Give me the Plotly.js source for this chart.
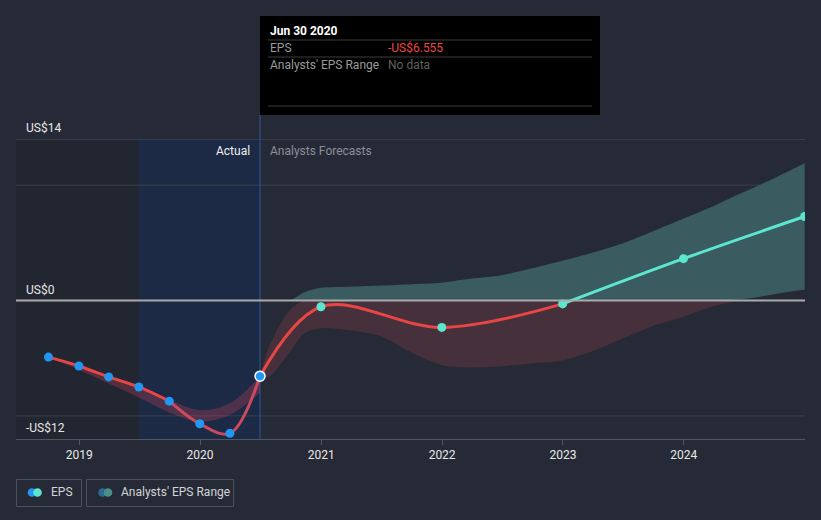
<!DOCTYPE html>
<html><head><meta charset="utf-8">
<script src="https://cdn.plot.ly/plotly-3.0.1.min.js"></script>
<style>html,body{margin:0;padding:0;background:#262a36;}#chart{width:821px;height:520px;}</style>
</head><body><div id="chart"></div><script>
// ---- data ----
const actualDates = ['2018-09-30','2018-12-31','2019-03-31','2019-06-30','2019-09-30','2019-12-31','2020-03-31','2020-06-30'];
const actualEps   = [-4.90, -5.67, -6.62, -7.49, -8.72, -10.68, -11.51, -6.555];
const forecastDates = ['2020-12-31','2021-12-31','2022-12-31','2023-12-31','2024-12-31'];
const forecastEps   = [-0.54, -2.33, -0.29, 3.63, 7.28];
const pastRangeDates = ['2018-09-30','2018-12-31','2019-03-31','2019-06-30','2019-09-30','2019-12-31','2020-03-31','2020-06-30'];
const pastRangeHigh  = [-4.9, -5.7, -6.6, -7.5, -8.6, -9.5, -8.9, -6.56];
const pastRangeLow   = [-4.9, -6.0, -7.2, -8.4, -9.7, -10.5, -9.9, -8.0];
const rangeDates = ['2020-06-30','2020-07-27','2020-09-27','2020-11-10','2020-12-31','2021-03-31','2021-06-30','2021-09-30','2021-12-31','2022-03-31','2022-06-30','2022-09-30','2022-12-31','2023-03-31','2023-06-30','2023-09-30','2023-12-31','2024-03-31','2024-06-30','2024-09-30','2024-12-31'];
const rangeHigh  = [-6.56, -4.0, -0.86, 0.7, 1.1, 1.2, 1.3, 1.42, 1.55, 1.9, 2.2, 2.8, 3.45, 4.15, 4.95, 6.0, 7.1, 8.2, 9.4, 10.6, 11.9];
const rangeLow   = [-6.56, -6.6, -4.5, -2.85, -2.4, -2.6, -3.1, -4.5, -5.6, -5.8, -5.7, -5.45, -5.2, -4.4, -3.3, -2.2, -1.4, -0.5, 0.13, 0.55, 0.95];
const yTickVals = [-12, 0, 14];
const yTickText = ['-US$12', 'US$0', 'US$14'];
const yGridVals = [-10, 10];
const xTickVals = ['2019-01-01','2020-01-01','2021-01-01','2022-01-01','2023-01-01','2024-01-01'];
const xTickText = ['2019','2020','2021','2022','2023','2024'];
const latestDate = '2020-06-30';
const pastStart = '2019-06-30';
const tipTitle = 'Jun 30 2020';
const tipEps = '-US$6.555';

// ---- geometry helpers ----
const W=821, H=520, L=16, R=16, T=139, B=81;
const px = x => (x - L) / (W - L - R);
const py = y => (H - B - y) / (H - T - B);
const FONT = 'Roboto, "Open Sans", sans-serif';
const RED = '#e84545', TEAL = '#5ce6cf', BLUE = '#2196f3';

const lowNeg = rangeLow.map(v => Math.min(v, 0));
const highNeg = rangeHigh.map(v => Math.min(v, 0));
const lowPos = rangeLow.map(v => Math.max(v, 0));
const highPos = rangeHigh.map(v => Math.max(v, 0));

const nb = {hoverinfo:'skip', showlegend:false, mode:'lines'};
const sp = {shape:'spline', smoothing:0.8, width:0};
const traces = [
  {...nb, x: pastRangeDates, y: pastRangeLow, line:{width:0, shape:'spline'}},
  {...nb, x: pastRangeDates, y: pastRangeHigh, line:{width:0, shape:'spline'}, fill:'tonexty', fillcolor:'rgba(215,70,95,0.28)'},
  {...nb, x: rangeDates, y: lowNeg, line:sp},
  {...nb, x: rangeDates, y: highNeg, line:sp, fill:'tonexty', fillcolor:'#46303b'},
  {...nb, x: rangeDates, y: lowPos, line:sp},
  {...nb, x: rangeDates, y: highPos, line:sp, fill:'tonexty', fillcolor:'#3a5c61'},
  {...nb, x: actualDates.slice(0,5), y: actualEps.slice(0,5), line:{color:RED, width:3, shape:'spline'}},
  {...nb, x: actualDates.slice(4), y: actualEps.slice(4), line:{color:'#cc4a5e', width:3, shape:'spline'}},
  {...nb, x: [actualDates[7]].concat(forecastDates.slice(0,3)), y: [actualEps[7]].concat(forecastEps.slice(0,3)), line:{color:RED, width:3, shape:'spline', smoothing:1}},
  {...nb, x: forecastDates.slice(2), y: forecastEps.slice(2), line:{color:TEAL, width:3, shape:'spline'}},
  {...nb, mode:'markers', x: actualDates.slice(0,7), y: actualEps.slice(0,7), marker:{color:BLUE, size:9}},
  {...nb, mode:'markers', x: forecastDates, y: forecastEps, marker:{color:TEAL, size:9}},
  {...nb, mode:'markers', x: [actualDates[7]], y: [actualEps[7]], marker:{color:BLUE, size:10, line:{color:'#ffffff', width:1.5}}}
];

const shapes = [
  {type:'rect', xref:'x', yref:'paper', x0:'2018-06-24', x1:pastStart, y0:0, y1:1, fillcolor:'rgba(0,0,0,0.09)', line:{width:0}, layer:'below'},
  {type:'rect', xref:'x', yref:'paper', x0:pastStart, x1:latestDate, y0:0, y1:1, fillcolor:'rgba(10,42,100,0.33)', line:{width:0}, layer:'below'},
  {type:'line', xref:'paper', yref:'y', x0:0, x1:1, y0:14, y1:14, line:{color:'#4b515c', width:1}, layer:'below'},
];
yGridVals.forEach(v => shapes.push({type:'line', xref:'paper', yref:'y', x0:0, x1:1, y0:v, y1:v, line:{color:'#3a404b', width:1}, layer:'below'}));
shapes.push({type:'line', xref:'paper', yref:'y', x0:0, x1:1, y0:0, y1:0, line:{color:'#a9a9a9', width:2}, layer:'above'});
shapes.push({type:'line', xref:'x', yref:'paper', x0:latestDate, x1:latestDate, y0:0, y1:py(115), line:{color:'#2b5a9c', width:1}, layer:'below'});
// tooltip
shapes.push({type:'rect', xref:'paper', yref:'paper', x0:px(260), x1:px(600), y0:py(16), y1:py(115), fillcolor:'#000000', line:{width:0}, layer:'above'});
[40, 57, 106].forEach(y => shapes.push({type:'line', xref:'paper', yref:'paper', x0:px(268), x1:px(592), y0:py(y), y1:py(y), line:{color:'#3c3c3c', width:1}, layer:'above'}));
// legend boxes
const box = (x0, x1) => ({type:'rect', xref:'paper', yref:'paper', x0:px(x0), x1:px(x1), y0:py(506.5), y1:py(479.5), line:{color:'#4a505c', width:1}, fillcolor:'rgba(0,0,0,0)', layer:'above'});
shapes.push(box(16.5, 81.5), box(86.5, 233.5));
const dot = (cx, col) => ({type:'circle', xref:'paper', yref:'paper', xsizemode:'pixel', ysizemode:'pixel', xanchor:px(cx), yanchor:py(492.5), x0:-4.3, x1:4.3, y0:-4.3, y1:4.3, fillcolor:col, line:{width:0}, layer:'above'});
shapes.push(dot(32, BLUE), dot(37.5, TEAL), dot(102.5, '#2c6a96'), dot(108, '#4a8f8b'));

const ann = [];
yTickVals.forEach((v, i) => ann.push({xref:'paper', yref:'y', x:px(24), y:v, yshift:11, xanchor:'left', yanchor:'middle', text:yTickText[i], showarrow:false, font:{family:FONT, size:12, color:'#e8e8e8'}}));
ann.push({xref:'x', yref:'paper', x:latestDate, xshift:-8, y:py(151), xanchor:'right', yanchor:'middle', text:'Actual', showarrow:false, font:{family:FONT, size:12, color:'#f0f0f0'}});
ann.push({xref:'x', yref:'paper', x:latestDate, xshift:8, y:py(151), xanchor:'left', yanchor:'middle', text:'Analysts Forecasts', showarrow:false, font:{family:FONT, size:12, color:'#8b9099'}});
const tip = (x, y, text, color, bold) => ({xref:'paper', yref:'paper', x:px(x), y:py(y), xanchor:'left', yanchor:'middle', text: bold ? '<b>'+text+'</b>' : text, showarrow:false, font:{family:FONT, size:12, color:color}});
ann.push(tip(268, 31, tipTitle, '#ffffff', true));
ann.push(tip(268, 48.5, 'EPS', '#9a9a9a'));
ann.push(tip(386, 48.5, tipEps, '#f14646'));
ann.push(tip(268, 65, "Analysts' EPS Range", '#9a9a9a'));
ann.push(tip(386, 65, 'No data', '#606060'));
ann.push(tip(49, 492.5, 'EPS', '#d2d4d8'));
ann.push(tip(119, 492.5, "Analysts' EPS Range", '#d2d4d8'));

const layout = {
  width: W, height: H,
  margin: {l:L, r:R, t:T, b:B, pad:0},
  paper_bgcolor: '#262a36', plot_bgcolor: '#262a36',
  showlegend: false,
  font: {family: FONT},
  xaxis: {type:'date', range:['2018-06-24','2025-01-01'], tickvals:xTickVals, ticktext:xTickText, showgrid:false, zeroline:false,
          showline:true, linecolor:'#4f5561', linewidth:1, ticks:'outside', ticklen:5, tickcolor:'#4f5561',
          tickfont:{family:FONT, size:12, color:'#e8e8e8'}, fixedrange:true},
  yaxis: {range:[-12,14], showgrid:false, zeroline:false, showticklabels:false, ticks:'', showline:false, fixedrange:true},
  shapes: shapes,
  annotations: ann
};
Plotly.newPlot('chart', traces, layout, {displayModeBar:false, staticPlot:true});
</script></body></html>
